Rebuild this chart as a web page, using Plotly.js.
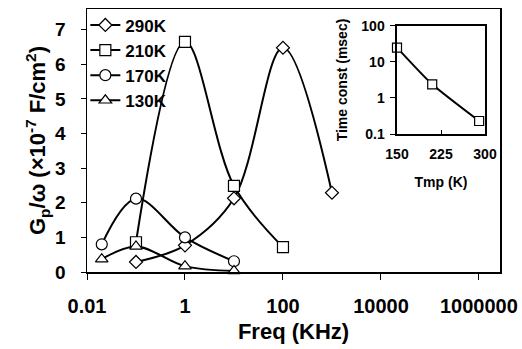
<!DOCTYPE html>
<html>
<head>
<meta charset="utf-8">
<script src="https://cdn.plot.ly/plotly-3.0.1.min.js"></script>
<style>html,body{margin:0;padding:0;background:#fff;}#chart{width:522px;height:349px;}</style>
</head>
<body>
<div id="chart"></div>
<script>
// Main chart data: frequency (KHz) vs Gp/omega (x10^-7 F/cm^2)
const freq290 = [0.1, 1, 10, 100, 1000];
const g290 = [0.29, 0.77, 2.13, 6.48, 2.29];
const freq210 = [0.1, 1, 10, 100];
const g210 = [0.86, 6.65, 2.49, 0.72];
const freq170 = [0.02, 0.1, 1, 10];
const g170 = [0.80, 2.12, 1.00, 0.31];
const freq130 = [0.02, 0.1, 1, 10];
const g130 = [0.37, 0.74, 0.17, 0.03];

// Inset data: temperature (K) vs time constant (msec)
const tmp = [150, 210, 290];
const tconst = [25, 2.4, 0.23];

const xTickVals = [0.01, 1, 100, 10000, 1000000];
const xTickText = ['0.01', '1', '100', '10000', '1000000'];
const yTickVals = [0, 1, 2, 3, 4, 5, 6, 7];
const insetXTicks = [150, 225, 300];
const insetYTicks = [0.1, 1, 10, 100];
const insetYText = ['0.1', '1', '10', '100'];

const FONT = 'Liberation Sans, Arial, sans-serif';
const bold = (size) => ({family: FONT, size: size, color: '#000', weight: 'bold'});

function series(x, y, name, symbol, size) {
  return {
    x: x, y: y, name: name, type: 'scatter', mode: 'lines+markers',
    line: {color: '#000', width: 2, shape: 'spline', smoothing: 1},
    marker: {symbol: symbol, size: size, color: '#fff', line: {color: '#000', width: 1.2}},
    cliponaxis: false, xaxis: 'x', yaxis: 'y'
  };
}

const data = [
  series(freq290, g290, '290K', 'diamond', 10),
  series(freq210, g210, '210K', 'square', 11),
  series(freq170, g170, '170K', 'circle', 11),
  series(freq130, g130, '130K', 'triangle-up', 11),
  {
    x: tmp, y: tconst, type: 'scatter', mode: 'lines+markers', showlegend: false,
    line: {color: '#000', width: 2, shape: 'spline', smoothing: 0.6},
    marker: {symbol: 'square', size: 9, color: '#fff', line: {color: '#000', width: 1.2}},
    cliponaxis: false, xaxis: 'x2', yaxis: 'y2'
  }
];

const layout = {
  width: 522, height: 349,
  margin: {l: 87, r: 22, t: 7, b: 77},
  paper_bgcolor: '#fff', plot_bgcolor: '#fff',
  showlegend: true,
  legend: {
    x: -0.004, y: 1.006, xanchor: 'left', yanchor: 'top',
    font: bold(17), bgcolor: 'rgba(0,0,0,0)', itemwidth: 30, tracegroupgap: 0
  },
  xaxis: {
    type: 'log', range: [-2, 6.43], tickvals: xTickVals, ticktext: xTickText,
    ticks: 'outside', ticklen: 6, tickwidth: 1, tickcolor: '#000',
    showline: true, linecolor: '#000', linewidth: 1.5, mirror: true,
    showgrid: false, zeroline: false, tickfont: bold(20), ticklabelstandoff: 9,
    title: {text: 'Freq (KHz)', font: bold(22), standoff: 8}
  },
  yaxis: {
    range: [0, 7.6], tickvals: yTickVals,
    ticks: 'outside', ticklen: 5, tickwidth: 1, tickcolor: '#000',
    showline: true, linecolor: '#000', linewidth: 1.5, mirror: true,
    showgrid: false, zeroline: false, tickfont: bold(19), ticklabelstandoff: 11,
    title: {text: 'G<sub>p</sub>/ω (×10<sup>-7</sup> F/cm<sup>2</sup>)', font: bold(22), standoff: 3}
  },
  xaxis2: {
    anchor: 'y2', domain: [0.7506, 0.9637], range: [150, 300], tickvals: insetXTicks,
    ticks: 'inside', ticklen: 4, tickcolor: '#000',
    showline: true, linecolor: '#000', linewidth: 1.5, mirror: true,
    showgrid: false, zeroline: false, tickfont: bold(14), ticklabelstandoff: 7,
    title: {text: 'Tmp (K)', font: bold(14), standoff: 16}
  },
  yaxis2: {
    anchor: 'x2', domain: [0.5245, 0.9358], type: 'log', range: [-1, 2],
    tickvals: insetYTicks, ticktext: insetYText,
    ticks: 'outside', ticklen: 5, tickcolor: '#000',
    showline: true, linecolor: '#000', linewidth: 1.5, mirror: true,
    showgrid: false, zeroline: false, tickfont: bold(14), ticklabelstandoff: 3,
    title: {text: 'Time const (msec)', font: bold(14), standoff: 10}
  }
};

Plotly.newPlot('chart', data, layout, {displayModeBar: false, staticPlot: true});
</script>
</body>
</html>
